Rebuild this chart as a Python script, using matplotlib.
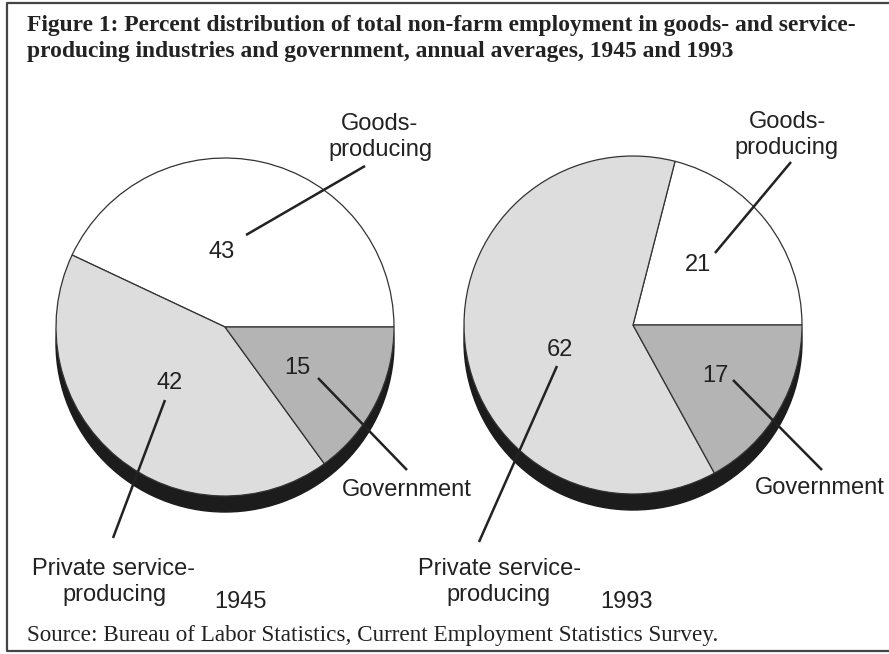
import matplotlib.pyplot as plt
from matplotlib.patches import Circle

# data
years = ['1945', '1993']
sectors = ['Goods-\nproducing', 'Private service-\nproducing', 'Government']
share_1945 = [43, 42, 15]
share_1993 = [21, 62, 17]
fills = ['white', '#dddddd', '#b4b4b4']

title_1 = 'Figure 1: Percent distribution of total non-farm employment in goods- and service-'
title_2 = 'producing industries and government, annual averages, 1945 and 1993'
source = 'Source: Bureau of Labor Statistics, Current Employment Statistics Survey.'

W, H = 889, 654
fig = plt.figure(figsize=(W / 100, H / 100), dpi=100)
ax = fig.add_axes([0, 0, 1, 1])

def Y(y):  # pixel row -> data y
    return H - y

sans = 'Liberation Sans'
ink = '#222222'
R = 169
shadow = 16

# pie centres and label placement (pixel coords, y down)
pies = [
    dict(vals=share_1945, c=(225, 327), year=(240, 602),
         num=[(222, 252), (170, 383), (297, 368)],
         lab=[(380, 137), (114, 582), (407, 490)],
         lead=[((246, 235), (365, 166)), ((165, 400), (113, 538)), ((318, 378), (407, 470))]),
    dict(vals=share_1993, c=(633, 325), year=(626, 602),
         num=[(698, 265), (560, 350), (715, 376)],
         lab=[(787, 135), (499, 582), (820, 488)],
         lead=[((715, 253), (791, 162)), ((557, 366), (479, 542)), ((733, 380), (822, 470))]),
]

for p, yr in zip(pies, years):
    cx, cy = p['c']
    ax.add_patch(Circle((cx, Y(cy) - shadow), R, color='#1c1c1c', zorder=0))
    ax.pie(p['vals'], startangle=0, counterclock=True, colors=fills,
           center=(cx, Y(cy)), radius=R, frame=True,
           wedgeprops=dict(edgecolor='#333333', linewidth=0.9))
    for v, (nx, ny) in zip(p['vals'], p['num']):
        ax.text(nx, Y(ny), str(v), ha='center', va='center', fontsize=17,
                family=sans, color=ink, zorder=5)
    for name, (lx, ly) in zip(sectors, p['lab']):
        ax.text(lx, Y(ly), name, ha='center', va='center', fontsize=17,
                family=sans, color=ink, linespacing=1.28, zorder=5)
    for (a, b) in p['lead']:
        ax.plot([a[0], b[0]], [Y(a[1]), Y(b[1])], color=ink, lw=1.8,
                solid_capstyle='butt', zorder=4)
    ax.text(p['year'][0], Y(p['year'][1]), yr, ha='center', va='center',
            fontsize=17, family=sans, color=ink)

# frame round the figure (right side runs off the page)
ax.plot([W + 5, 7, 7, W + 5], [Y(3), Y(3), Y(651), Y(651)], color='#444444',
        lw=1.6, clip_on=False)

t1 = ax.text(27, Y(26), title_1, ha='left', va='center', fontsize=14,
             family='Liberation Serif', weight='bold', color=ink)
t2 = ax.text(27, Y(51), title_2, ha='left', va='center', fontsize=14,
             family='Liberation Serif', weight='bold', color=ink)
t3 = ax.text(27, Y(635), source, ha='left', va='center', fontsize=14,
             family='Liberation Serif', color=ink)

ax.set_xlim(0, W)
ax.set_ylim(0, H)
ax.set_autoscale_on(False)
ax.set_aspect('auto')
ax.axis('off')

# stretch the title and source lines to the printed widths
fig.canvas.draw()
s = 835 / t1.get_window_extent().width
t1.set_fontsize(14 * s)
t2.set_fontsize(14 * s)
t3.set_fontsize(14 * 693 / t3.get_window_extent().width)

fig.savefig('out.png', dpi=100, facecolor='white')
